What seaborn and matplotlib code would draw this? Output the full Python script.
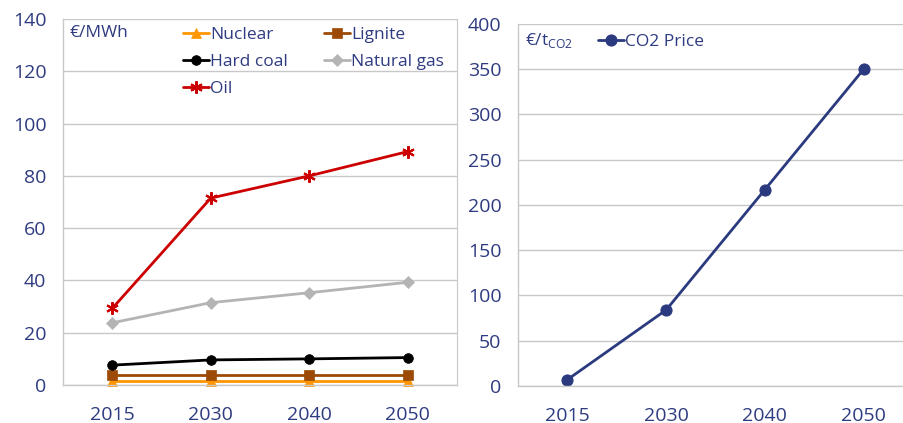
import matplotlib
matplotlib.use("Agg")

import numpy as np
import pandas as pd
import matplotlib.pyplot as plt
import seaborn as sns

# ==========================================
# DATA
# ==========================================

years = ["2015", "2030", "2040", "2050"]

nuclear = [1.5, 1.5, 1.5, 1.5]
lignite = [3.8, 3.8, 3.8, 3.8]
hard_coal = [7.6, 9.6, 10.0, 10.5]
natural_gas = [23.8, 31.5, 35.3, 39.3]
oil = [29.3, 71.5, 80.0, 89.3]

co2_price = [7, 84, 217, 350]

# ==========================================
# STYLE
# ==========================================

sns.set_style("white")
plt.rcParams['font.family'] = ['Open Sans', 'DejaVu Sans']
plt.rcParams['mathtext.fontset'] = 'custom'
plt.rcParams['mathtext.rm'] = 'Open Sans'

text_color = '#2E3B80'
grid_color = '#C8C8C8'

series = [
    ("Nuclear", nuclear, '#FF9500', '^', 7),
    ("Lignite", lignite, '#9C4A06', 's', 7),
    ("Hard coal", hard_coal, '#000000', 'o', 7),
    ("Natural gas", natural_gas, '#B4B4B4', 'D', 6),
    ("Oil", oil, '#CC0000', (6, 2, 0), 9),
]

x = np.arange(len(years))

fig = plt.figure(figsize=(9.04, 4.23), dpi=100)

ax1 = fig.add_axes([0.0697, 0.0898, 0.4358, 0.8652])
ax2 = fig.add_axes([0.573, 0.0875, 0.437, 0.8558])


def style_axis(ax, ymax, ystep, right_spine):
    ax.set_xlim(-0.5, len(years) - 0.5)
    ax.set_ylim(0, ymax)
    ax.set_yticks(np.arange(0, ymax + 1, ystep))
    ax.set_xticks(x)
    ax.set_xticklabels(years)
    ax.set_xticks(np.arange(-0.5, len(years), 1.0), minor=True)
    ax.grid(axis='y', color=grid_color, linewidth=1)
    ax.set_axisbelow(True)
    for side in ['left', 'bottom']:
        ax.spines[side].set_color(grid_color)
        ax.spines[side].set_linewidth(1)
    ax.spines['top'].set_visible(False)
    ax.spines['right'].set_visible(right_spine)
    ax.spines['right'].set_color(grid_color)
    ax.tick_params(axis='y', length=4, color=grid_color, pad=8,
                   labelsize=14, labelcolor=text_color)
    ax.tick_params(axis='x', which='major', length=0, pad=15,
                   labelsize=14, labelcolor=text_color)
    ax.tick_params(axis='x', which='minor', length=5, color=grid_color,
                   width=1)
    ax.set_xlabel("")
    ax.set_ylabel("")


# ==========================================
# LEFT: FUEL PRICES
# ==========================================

for name, vals, color, marker, ms in series:
    sns.lineplot(
        x=x,
        y=vals,
        ax=ax1,
        color=color,
        marker=marker,
        markersize=ms,
        markeredgecolor=color,
        markeredgewidth=1.5 if name == "Oil" else 0.5,
        linewidth=2,
        label=name,
        clip_on=False
    )

style_axis(ax1, 140, 20, True)

handles, labels = ax1.get_legend_handles_labels()
order = [0, 2, 4, 1, 3]
ax1.legend(
    [handles[i] for i in order],
    [labels[i] for i in order],
    ncol=2,
    loc='upper left',
    bbox_to_anchor=(183 / 904, 1 - 27 / 423),
    bbox_transform=fig.transFigure,
    frameon=False,
    fontsize=12.5,
    labelcolor=text_color,
    handlelength=1.5,
    handletextpad=0.05,
    columnspacing=2.1,
    labelspacing=0.62,
    borderpad=0,
    borderaxespad=0
)

fig.text(70 / 904, 1 - 33 / 423, "€/MWh", fontsize=12.5,
         color=text_color, va='center', ha='left')

# ==========================================
# RIGHT: CO2 PRICE
# ==========================================

sns.lineplot(
    x=x,
    y=co2_price,
    ax=ax2,
    color='#2B3A7E',
    marker='o',
    markersize=8,
    markeredgecolor='#2B3A7E',
    linewidth=2,
    label="CO2 Price",
    clip_on=False
)

style_axis(ax2, 400, 50, False)

ax2.legend(
    loc='upper left',
    bbox_to_anchor=(598 / 904, 1 - 34 / 423),
    bbox_transform=fig.transFigure,
    frameon=False,
    fontsize=12.5,
    labelcolor=text_color,
    handlelength=1.5,
    handletextpad=0.05,
    borderpad=0,
    borderaxespad=0
)

fig.text(525 / 904, 1 - 40 / 423, r"€/t$_{\mathrm{CO2}}$", fontsize=12.5,
         color=text_color, va='center', ha='left')

fig.savefig("out.png", dpi=100)
